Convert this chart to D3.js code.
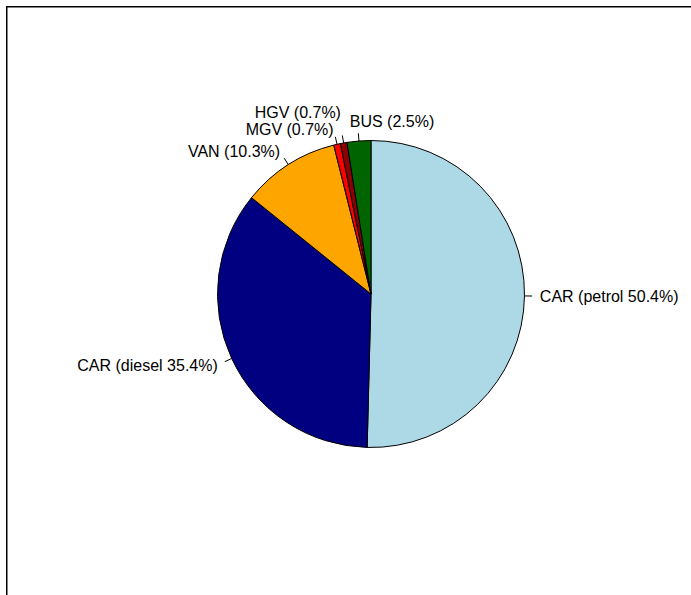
<!DOCTYPE html>
<html>
<head>
<meta charset="utf-8">
<script src="https://cdn.jsdelivr.net/npm/d3@7"></script>
<style>
  body { margin: 0; background: #fff; }
  text { font-family: "Liberation Sans", Arial, Helvetica, sans-serif; font-size: 16px; fill: #000; }
</style>
</head>
<body>
<script>
var Width = 691;      // of SVG
var Height = 595;     // of SVG

// vehicle share data (clockwise from 12 o'clock)
var vehicles = ["CAR", "CAR", "VAN", "MGV", "HGV", "BUS"];
var fuels    = ["petrol", "diesel", "", "", "", ""];
var shares   = [50.4, 35.4, 10.3, 0.7, 0.7, 2.5];
var colours  = ["lightblue", "navy", "orange", "red", "darkred", "darkgreen"];

// small hand tweaks so the tiny slices' labels don't sit on top of each other
var labelNudge = {
  HGV: { dx: 0, dy: -15 },
  BUS: { dx: -8, dy: -4, anchor: "start" }
};

var CenterX = 371, CenterY = 294, Radius = 153.5;

function main () {
  var svg = makeSVG();

  var data = shares.map(function(s, i) {
    return {
      vehicle: vehicles[i],
      value: s,
      colour: colours[i],
      label: fuels[i] ? vehicles[i] + " (" + fuels[i] + " " + s + "%)"
                      : vehicles[i] + " (" + s + "%)"
    };
  });

  var pie = d3.pie()
    .sort(null)
    .value(function(d) { return d.value; })
    .startAngle(0)
    .endAngle(2 * Math.PI);

  var arcs = pie(data);

  var arc = d3.arc().innerRadius(0).outerRadius(Radius);

  var g = svg.append("g")
    .attr("transform", "translate(" + CenterX + "," + CenterY + ")");

  g.selectAll("path.slice")
    .data(arcs)
    .enter()
    .append("path")
    .attr("class", "slice")
    .attr("d", arc)
    .attr("fill", function(d) { return d.data.colour; })
    .attr("stroke", "#000")
    .attr("stroke-width", 1);

  makeLabels(g, arcs);
}

function makeLabels (g, arcs) {
  function mid(d) { return (d.startAngle + d.endAngle) / 2; }

  g.selectAll("line.tick")
    .data(arcs)
    .enter()
    .append("line")
    .attr("class", "tick")
    .attr("x1", function(d) { return Math.sin(mid(d)) * Radius; })
    .attr("y1", function(d) { return -Math.cos(mid(d)) * Radius; })
    .attr("x2", function(d) { return Math.sin(mid(d)) * Radius * 1.05; })
    .attr("y2", function(d) { return -Math.cos(mid(d)) * Radius * 1.05; })
    .attr("stroke", "#000")
    .attr("stroke-width", 1);

  g.selectAll("text.lab")
    .data(arcs)
    .enter()
    .append("text")
    .attr("class", "lab")
    .attr("x", function(d) {
      var n = labelNudge[d.data.vehicle];
      return Math.sin(mid(d)) * Radius * 1.1 + (n ? n.dx : 0);
    })
    .attr("y", function(d) {
      var n = labelNudge[d.data.vehicle];
      return -Math.cos(mid(d)) * Radius * 1.1 + (n ? n.dy : 0);
    })
    .attr("dy", "0.35em")
    .attr("text-anchor", function(d) {
      var n = labelNudge[d.data.vehicle];
      if (n && n.anchor) return n.anchor;
      return Math.sin(mid(d)) < 0 ? "end" : "start";
    })
    .text(function(d) { return d.data.label; });
}

function makeSVG () {
  var svg = d3.select("body")
    .append("svg")
    .attr("width", Width)
    .attr("height", Height);

  // plot frame (runs off the right and bottom of the picture)
  svg.append("rect")
    .attr("x", 6.75)
    .attr("y", 6.75)
    .attr("width", Width + 20)
    .attr("height", Height + 20)
    .attr("fill", "none")
    .attr("stroke", "#000")
    .attr("stroke-width", 1.5);

  return svg;
}

main();
</script>
</body>
</html>
